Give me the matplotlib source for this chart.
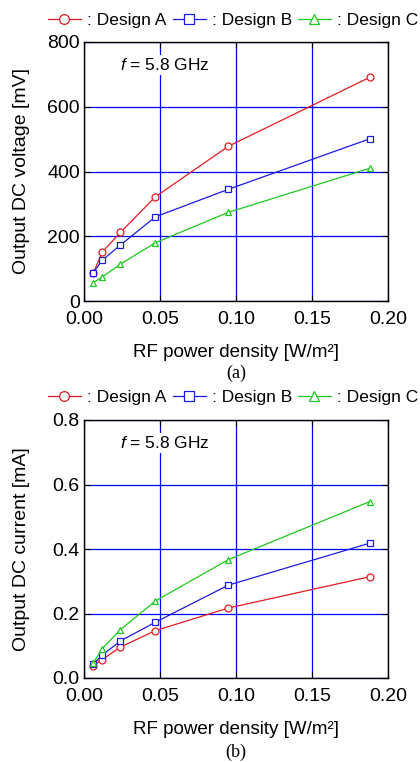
import numpy as np
import matplotlib
matplotlib.use("Agg")
import matplotlib.pyplot as plt
from matplotlib.lines import Line2D

plt.rcParams['font.family'] = ['Liberation Sans', 'DejaVu Sans']
plt.rcParams['mathtext.fontset'] = 'custom'
plt.rcParams['mathtext.it'] = 'Liberation Sans:italic'
plt.rcParams['mathtext.rm'] = 'Liberation Sans'

# --- dados ---
density = [0.006, 0.012, 0.024, 0.047, 0.095, 0.188]
labels = [": Design A", ": Design B", ": Design C"]

volt_a = [85, 151, 212, 322, 478, 691]
volt_b = [87, 126, 173, 260, 345, 501]
volt_c = [56, 74, 114, 180, 274, 410]

curr_a = [0.038, 0.057, 0.096, 0.147, 0.217, 0.314]
curr_b = [0.043, 0.071, 0.115, 0.173, 0.288, 0.418]
curr_c = [0.046, 0.091, 0.150, 0.239, 0.367, 0.547]

cores = ["#e01c22", "#1c1ce0", "#1ec81e"]
marcadores = ["o", "s", "^"]

W, H = 420, 762
fig = plt.figure(figsize=(W / 100, H / 100), dpi=100)

def painel(top, bottom, series, ylim, yticks, yfmt, ylabel, leg_y, cap, cap_y):
    ax = fig.add_axes([84 / W, 1 - bottom / H, (388 - 84) / W, (bottom - top) / H])
    for ys, c, m in zip(series, cores, marcadores):
        ax.plot(density, ys, color=c, lw=0.9, marker=m, ms=5, mfc='white',
                mec=c, mew=0.9, zorder=3)
    ax.set_xlim(0, 0.2)
    ax.set_ylim(*ylim)
    ax.set_xticks([0, 0.05, 0.10, 0.15, 0.20])
    ax.set_xticklabels(["0.00", "0.05", "0.10", "0.15", "0.20"])
    ax.set_yticks(yticks)
    ax.set_yticklabels([yfmt.format(v) for v in yticks])
    ax.grid(True, color="#0000ff", lw=0.9)
    ax.tick_params(direction='in', length=4, top=True, right=True, labelsize=14)
    ax.tick_params(axis='x', pad=7)
    ax.tick_params(axis='y', pad=3)
    for s in ax.spines.values():
        s.set_linewidth(1.0)
    ax.set_ylabel(ylabel, fontsize=14)
    ax.yaxis.set_label_coords(-0.178, 0.5)
    ax.set_xlabel("RF power density [W/m²]", fontsize=13.5)
    ax.xaxis.set_label_coords(0.5, -0.165)
    ax.text(0.12, 0.91, r"$\it{f}$ = 5.8 GHz", transform=ax.transAxes, fontsize=12.5,
            va='center', ha='left', zorder=4,
            bbox=dict(facecolor='white', edgecolor='none', pad=1.5))

    handles = [Line2D([], [], color=c, lw=0.9, marker=m, ms=7, mfc='white', mec=c, mew=0.9)
               for c, m in zip(cores, marcadores)]
    fig.legend(handles, labels, loc='center left', bbox_to_anchor=(48 / W, 1 - leg_y / H),
               ncol=3, frameon=False, fontsize=12.5, handlelength=1.9,
               handletextpad=0.35, columnspacing=0.35, borderpad=0, borderaxespad=0)
    fig.text(236 / W, 1 - cap_y / H, cap, ha='center', va='center',
             fontsize=13, family='Liberation Serif')
    return ax

painel(42, 301, [volt_a, volt_b, volt_c], (0, 800), [0, 200, 400, 600, 800], "{:.0f}",
       "Output DC voltage [mV]", 20, "(a)", 373)
painel(420, 678, [curr_a, curr_b, curr_c], (0, 0.8), [0, 0.2, 0.4, 0.6, 0.8], "{:.1f}",
       "Output DC current [mA]", 397, "(b)", 752)

fig.savefig("out.png", dpi=100)
